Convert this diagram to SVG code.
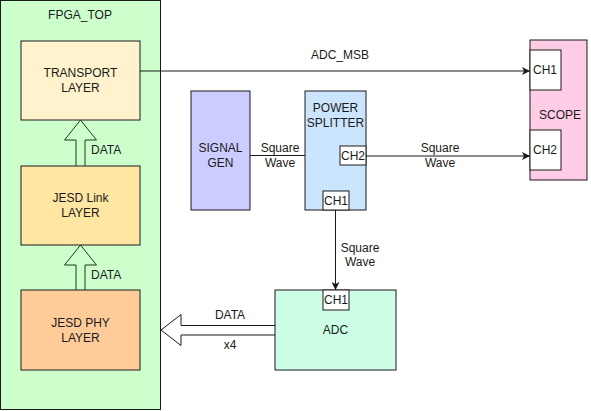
<svg xmlns="http://www.w3.org/2000/svg" width="591" height="411" viewBox="0 0 591 411">
<style>
text{font-family:"Liberation Sans",Arial,sans-serif;font-size:12px;fill:#1a1a1a;text-anchor:middle}
.box{stroke:#1a1a1a;stroke-width:1}
.port{fill:#ffffff;stroke:#1a1a1a;stroke-width:1}
.wire{fill:none;stroke:#1a1a1a;stroke-width:1}
.barrow{fill:none;stroke:#1f3a1f;stroke-width:1}
.l{text-anchor:start}
</style>
<defs>
<marker id="ah" viewBox="0 0 10 10" refX="10" refY="5" markerWidth="8" markerHeight="8" markerUnits="userSpaceOnUse" orient="auto">
<path d="M0,0 L10,5 L0,10 L2.5,5 Z" fill="#1a1a1a"/>
</marker>
</defs>
<rect width="591" height="411" fill="#ffffff"/>
<g id="fpga_top">
<rect class="box" x="0.5" y="0.5" width="160" height="409" fill="#ccffcc"/>
<text x="80" y="19">FPGA_TOP</text>
</g>
<g id="transport">
<rect class="box" x="21" y="41" width="119" height="79" fill="#fff2cc"/>
<text x="80.5" y="77">TRANSPORT</text>
<text x="80.5" y="92">LAYER</text>
</g>
<g id="jesd_link">
<rect class="box" x="21" y="166" width="119" height="79" fill="#ffe6a3"/>
<text x="80.5" y="202">JESD Link</text>
<text x="80.5" y="217">LAYER</text>
</g>
<g id="jesd_phy">
<rect class="box" x="21" y="290" width="119" height="80" fill="#ffcc99"/>
<text x="80.5" y="327">JESD PHY</text>
<text x="80.5" y="342">LAYER</text>
</g>
<g id="signal_gen">
<rect class="box" x="191" y="91" width="59" height="119" fill="#ccccff"/>
<text x="220.5" y="152">SIGNAL</text>
<text x="220.5" y="167">GEN</text>
</g>
<g id="power_splitter">
<rect class="box" x="305" y="91" width="61" height="119" fill="#cce5ff"/>
<text x="335.5" y="112">POWER</text>
<text x="335.5" y="127">SPLITTER</text>
<rect class="port" x="340" y="146" width="26" height="19"/>
<text x="353" y="160">CH2</text>
<rect class="port" x="323" y="191" width="26" height="19"/>
<text x="336" y="205">CH1</text>
</g>
<g id="scope">
<rect class="box" x="530" y="40" width="57" height="140" fill="#ffcce6"/>
<text x="560" y="119">SCOPE</text>
<rect class="port" x="530" y="50" width="31" height="40"/>
<text x="545" y="74">CH1</text>
<rect class="port" x="530" y="130" width="31" height="40"/>
<text x="545" y="154">CH2</text>
</g>
<g id="adc">
<rect class="box" x="275" y="290" width="121" height="80" fill="#ccffe6"/>
<text x="335.5" y="334">ADC</text>
<rect class="port" x="323" y="290" width="26" height="20"/>
<text x="336" y="304">CH1</text>
</g>
<g id="connectors">
<path class="wire" d="M140,71 L530,71" marker-end="url(#ah)"/>
<text x="340" y="59">ADC_MSB</text>
<path class="wire" d="M250,155.5 L305,155.5"/>
<text x="280" y="152">Square</text>
<text x="280" y="167">Wave</text>
<path class="wire" d="M366,156 L530,156" marker-end="url(#ah)"/>
<text x="440" y="152">Square</text>
<text x="440" y="167">Wave</text>
<path class="wire" d="M335.5,210 L335.5,290" marker-end="url(#ah)"/>
<text x="360" y="252">Square</text>
<text x="360" y="266">Wave</text>
<path class="barrow" d="M76,166 L76,140 L64.5,140 L80.5,120 L96.5,140 L85,140 L85,166"/>
<text class="l" x="91" y="154">DATA</text>
<path class="barrow" d="M76,290 L76,265 L64.5,265 L80.5,245 L96.5,265 L85,265 L85,290"/>
<text class="l" x="91" y="279">DATA</text>
<path class="barrow" d="M275,325.5 L181,325.5 L181,314.5 L161,330 L181,345.5 L181,335 L275,335" style="stroke:#1a1a1a"/>
<text x="230" y="319">DATA</text>
<text x="230" y="349">x4</text>
</g>
</svg>
